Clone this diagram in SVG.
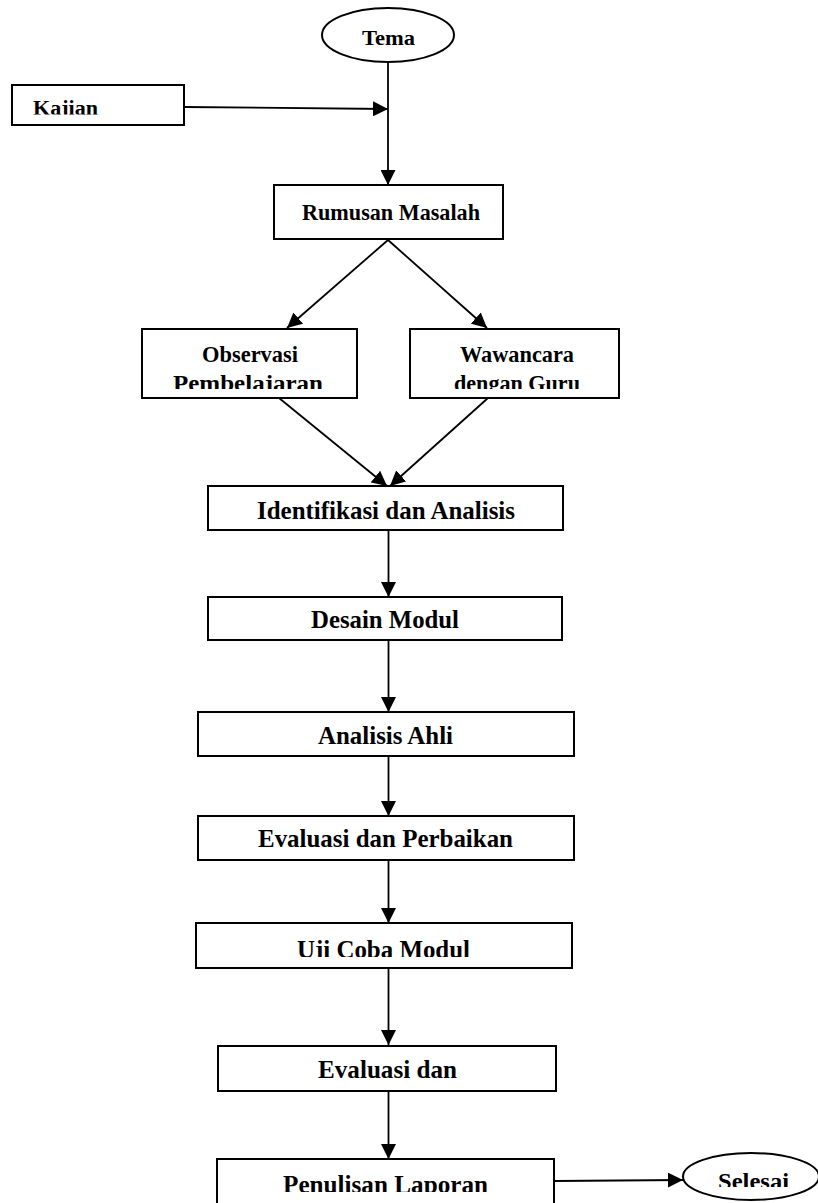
<svg xmlns="http://www.w3.org/2000/svg" width="818" height="1203" viewBox="0 0 818 1203">
<style>
.box{fill:#fff;stroke:#000;stroke-width:2}
.t{font-family:"Liberation Serif","Times New Roman",serif;font-weight:bold;fill:#000}
.c{stroke:#000;stroke-width:1.8;fill:none;marker-end:url(#ah)}
</style>
<defs>
<marker id="ah" markerUnits="userSpaceOnUse" markerWidth="15" markerHeight="15" refX="14" refY="7" orient="auto" viewBox="0 0 14 14">
<path d="M0,0 L14,7 L0,14 z" fill="#000"/>
</marker>
<clipPath id="cKaj"><rect x="0" y="80" width="200" height="34.5"/></clipPath>
<clipPath id="cObs"><rect x="100" y="330" width="560" height="59"/></clipPath>
<clipPath id="cUji"><rect x="190" y="920" width="400" height="37"/></clipPath>
<clipPath id="cPen"><rect x="210" y="1160" width="360" height="32"/></clipPath>
<clipPath id="cSel"><rect x="680" y="1150" width="138" height="37"/></clipPath>
</defs>
<g id="connectors">
<line class="c" x1="388" y1="62" x2="388" y2="185"/>
<line class="c" x1="184" y1="107" x2="388" y2="109"/>
<line class="c" x1="388" y1="240" x2="287" y2="328"/>
<line class="c" x1="388" y1="240" x2="487" y2="328"/>
<line class="c" x1="279" y1="398" x2="387" y2="486"/>
<line class="c" x1="488" y1="398" x2="390" y2="486"/>
<line class="c" x1="388.5" y1="530" x2="388.5" y2="597"/>
<line class="c" x1="388.5" y1="640" x2="388.5" y2="712"/>
<line class="c" x1="388.5" y1="756" x2="388.5" y2="816"/>
<line class="c" x1="388.5" y1="860" x2="388.5" y2="923"/>
<line class="c" x1="388.5" y1="968" x2="388.5" y2="1045"/>
<line class="c" x1="388.5" y1="1091" x2="388.5" y2="1159"/>
<line class="c" x1="554" y1="1181" x2="683" y2="1180"/>
</g>
<g id="tema">
<ellipse class="box" cx="388" cy="35" rx="66" ry="27"/>
<text class="t" x="362" y="45" font-size="21" textLength="53" lengthAdjust="spacingAndGlyphs">Tema</text>
</g>
<g id="kajian">
<rect class="box" x="12" y="85" width="172" height="40"/>
<text class="t" x="33" y="114.5" font-size="20.5" textLength="65" lengthAdjust="spacingAndGlyphs" clip-path="url(#cKaj)">Kajian</text>
</g>
<g id="rumusan">
<rect class="box" x="274" y="185" width="229" height="54"/>
<text class="t" x="302" y="220" font-size="24" textLength="178" lengthAdjust="spacingAndGlyphs">Rumusan Masalah</text>
</g>
<g id="observasi">
<rect class="box" x="142" y="329" width="215" height="69"/>
<text class="t" x="202" y="362" font-size="24" textLength="96" lengthAdjust="spacingAndGlyphs">Observasi</text>
<text class="t" x="173" y="391" font-size="24" textLength="150" lengthAdjust="spacingAndGlyphs" clip-path="url(#cObs)">Pembelajaran</text>
</g>
<g id="wawancara">
<rect class="box" x="410" y="329" width="209" height="69"/>
<text class="t" x="460" y="362" font-size="24" textLength="114" lengthAdjust="spacingAndGlyphs">Wawancara</text>
<text class="t" x="454" y="391" font-size="24" textLength="126" lengthAdjust="spacingAndGlyphs" clip-path="url(#cObs)">dengan Guru</text>
</g>
<g id="identifikasi">
<rect class="box" x="208" y="486" width="355" height="44"/>
<text class="t" x="257" y="518.5" font-size="25" textLength="258" lengthAdjust="spacingAndGlyphs">Identifikasi dan Analisis</text>
</g>
<g id="desain">
<rect class="box" x="208" y="597" width="354" height="43"/>
<text class="t" x="311" y="628" font-size="25" textLength="148" lengthAdjust="spacingAndGlyphs">Desain Modul</text>
</g>
<g id="analisis">
<rect class="box" x="198" y="712" width="376" height="44"/>
<text class="t" x="318" y="744" font-size="25" textLength="135" lengthAdjust="spacingAndGlyphs">Analisis Ahli</text>
</g>
<g id="evaluasi1">
<rect class="box" x="198" y="816" width="376" height="44"/>
<text class="t" x="258" y="847" font-size="25" textLength="255" lengthAdjust="spacingAndGlyphs">Evaluasi dan Perbaikan</text>
</g>
<g id="ujicoba">
<rect class="box" x="196" y="923" width="376" height="45"/>
<text class="t" x="297" y="957.5" font-size="25" textLength="173" lengthAdjust="spacingAndGlyphs" clip-path="url(#cUji)">Uji Coba Modul</text>
</g>
<g id="evaluasi2">
<rect class="box" x="218" y="1046" width="338" height="45"/>
<text class="t" x="318" y="1078" font-size="25" textLength="139" lengthAdjust="spacingAndGlyphs">Evaluasi dan</text>
</g>
<g id="penulisan">
<rect class="box" x="217" y="1159" width="337" height="46"/>
<text class="t" x="283" y="1193" font-size="25" textLength="205" lengthAdjust="spacingAndGlyphs" clip-path="url(#cPen)">Penulisan Laporan</text>
</g>
<g id="selesai">
<ellipse class="box" cx="751" cy="1176.5" rx="68" ry="23.5"/>
<text class="t" x="718" y="1188.5" font-size="24" textLength="71" lengthAdjust="spacingAndGlyphs" clip-path="url(#cSel)">Selesai</text>
</g>
</svg>
